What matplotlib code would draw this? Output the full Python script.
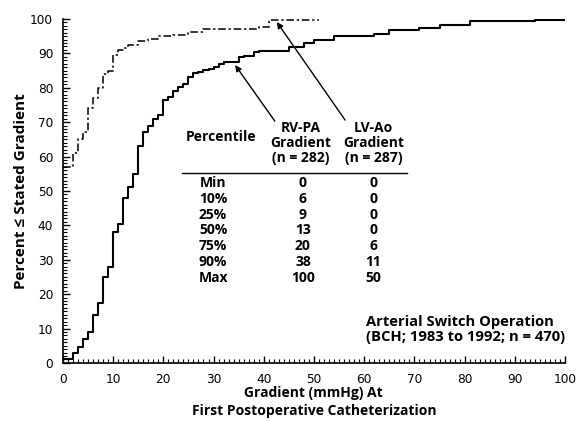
import matplotlib
matplotlib.use("Agg")
import matplotlib.pyplot as plt
from matplotlib.ticker import MultipleLocator

# cumulative distributions (step at each gradient)
rv_grad = [0, 2, 3, 4, 5, 6, 7, 8, 9, 10, 11, 12, 13, 14, 15, 16, 17, 18, 19,
           20, 21, 22, 23, 24, 25, 26, 27, 28, 29, 30, 31, 32, 35, 36, 38, 39,
           45, 48, 50, 54, 62, 65, 71, 75, 81, 94, 100]
rv_pct = [1, 3, 4.5, 7, 9, 14, 17.5, 25, 28, 38, 40.5, 48, 51, 55, 63, 67, 69,
          71, 72, 76.5, 77.2, 79, 80.2, 81, 83.2, 84.2, 84.6, 85.1, 85.5, 86.1,
          86.9, 87.4, 88.8, 89.3, 90.4, 90.8, 91.9, 92.9, 93.9, 95.0, 95.6,
          96.8, 97.5, 98.3, 99.5, 99.8, 100]

lv_grad = [0, 2, 3, 4, 5, 6, 7, 8, 9, 10, 11, 12, 13, 15, 17, 19, 22, 25, 28,
           39, 41, 51]
lv_pct = [57, 61, 65, 67, 74, 77, 80, 84, 85, 89.5, 91, 91.5, 92.4, 93.5, 94.1,
          95, 95.4, 96.2, 97.2, 97.8, 99.7, 99.7]

pct_rows = ["Min", "10%", "25%", "50%", "75%", "90%", "Max"]
rv_table = ["0", "6", "9", "13", "20", "38", "100"]
lv_table = ["0", "0", "0", "0", "6", "11", "50"]

plt.rcParams["font.family"] = ["Open Sans", "DejaVu Sans"]

fig = plt.figure(figsize=(5.82, 4.21), dpi=100)
ax = fig.add_axes([0.108, 0.138, 0.863, 0.817])

ax.step(rv_grad, rv_pct, where="post", color="black", lw=1.5)
ax.step(lv_grad, lv_pct, where="post", color="black", lw=1.1,
        dashes=(5, 1.8, 1.5, 1.8))

ax.set_xlim(0, 100)
ax.set_ylim(0, 100)
for side in ["top", "right"]:
    ax.spines[side].set_visible(False)
for side in ["left", "bottom"]:
    ax.spines[side].set_linewidth(1.2)

ax.xaxis.set_major_locator(MultipleLocator(10))
ax.xaxis.set_minor_locator(MultipleLocator(1))
ax.yaxis.set_major_locator(MultipleLocator(10))
ax.yaxis.set_minor_locator(MultipleLocator(1))
ax.tick_params(which="major", direction="in", length=5, width=1, pad=7)
ax.tick_params(which="minor", direction="in", length=3, width=0.8)
for lab in ax.get_xticklabels() + ax.get_yticklabels():
    lab.set_family("DejaVu Sans")
    lab.set_fontsize(8.7)

# percentile table
bold = dict(fontsize=10, fontweight="bold", ha="center", va="center")
ax.text(31.5, 65.7, "Percentile", **bold)
ax.text(47.3, 64.0, "RV-PA\nGradient\n(n = 282)", linespacing=1.1, **bold)
ax.text(61.8, 64.0, "LV-Ao\nGradient\n(n = 287)", linespacing=1.1, **bold)
ax.plot([23.7, 68.5], [55.2, 55.2], color="black", lw=1)
for i, row in enumerate(pct_rows):
    y = 52.3 - 4.6 * i
    ax.text(29.9, y, row, **bold)
    ax.text(47.8, y, rv_table[i], **bold)
    ax.text(61.8, y, lv_table[i], **bold)

arrow = dict(arrowstyle="-|>", color="black", lw=1, mutation_scale=9,
             shrinkA=0, shrinkB=0)
ax.annotate("", xy=(34.3, 86.6), xytext=(42.2, 70.3), arrowprops=arrow)
ax.annotate("", xy=(42.6, 99.1), xytext=(56.2, 70.6), arrowprops=arrow)

ax.text(60.4, 11.9, "Arterial Switch Operation", fontsize=10.6,
        fontweight="bold", ha="left", va="center")
ax.text(60.4, 7.4, "(BCH; 1983 to 1992; n = 470)", fontsize=10.6,
        fontweight="bold", ha="left", va="center")

fig.text(21 / 582, 1 - 191 / 421, "Percent ≤ Stated Gradient", rotation=90,
         fontsize=11, fontweight="bold", ha="center", va="center")
fig.text(313 / 582, 1 - 393 / 421, "Gradient (mmHg) At", fontsize=10,
         fontweight="bold", ha="center", va="center")
fig.text(314 / 582, 1 - 411 / 421, "First Postoperative Catheterization",
         fontsize=10, fontweight="bold", ha="center", va="center")

fig.savefig("out.png", dpi=100)
